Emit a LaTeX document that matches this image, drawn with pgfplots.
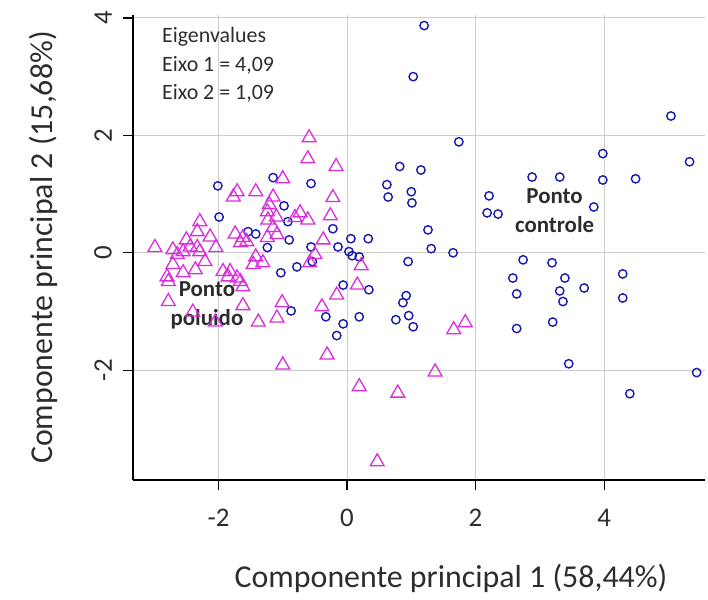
\documentclass[border=0pt]{standalone}
\usepackage{pgfplots}
\pgfplotsset{compat=1.18}
\usepackage{fontspec}
\setmainfont{Carlito}
\definecolor{ctrl}{RGB}{25,25,175}
\definecolor{polu}{RGB}{220,45,220}
\definecolor{gridc}{RGB}{205,205,205}
\definecolor{txt}{RGB}{45,45,45}
\begin{document}
\begin{tikzpicture}
\begin{axis}[
  name=ax,
  scale only axis,
  width=572bp, height=465bp,
  xmin=-3.33, xmax=5.57, ymin=-3.87, ymax=4.05,
  axis lines*=left,
  axis line style={line width=1.2bp, black},
  xtick={-2,0,2,4}, ytick={-2,0,2,4},
  tick align=outside,
  major tick length=10bp,
  tick style={line width=1.2bp, black},
  grid=major,
  grid style={gridc, line width=0.9bp},
  /pgf/number format/assume math mode=true,
  tick label style={font=\fontsize{27}{32}\selectfont, text=txt},
  xticklabel style={anchor=north, inner sep=19bp},
  yticklabel style={rotate=90, anchor=south, inner sep=11bp},
  xlabel={Componente principal 1 (58,44\%)},
  ylabel={Componente principal 2 (15,68\%)},
  label style={font=\fontsize{32}{38}\selectfont, text=txt},
  xlabel style={at={(axis description cs:0.556,-0.2301)}, anchor=base},
  ylabel style={at={(axis description cs:-0.1416,0.5)}, anchor=base},
]
\addplot[only marks, mark=o, mark size=4.2bp, mark options={line width=1.4bp, draw=ctrl}, color=ctrl] table {
x y
1.20 3.87
1.03 3.00
1.74 1.89
5.04 2.33
3.98 1.69
5.33 1.55
2.88 1.29
3.31 1.29
3.98 1.24
4.49 1.26
3.84 0.78
2.74 -0.12
3.19 -0.17
2.58 -0.43
3.39 -0.43
4.29 -0.36
2.64 -0.70
3.31 -0.65
3.36 -0.83
3.69 -0.60
4.29 -0.77
3.20 -1.18
2.64 -1.29
3.45 -1.89
4.40 -2.40
5.44 -2.04
0.82 1.47
1.15 1.41
0.62 1.16
0.64 0.95
1.00 1.04
1.01 0.85
2.21 0.97
2.18 0.68
2.35 0.66
-0.22 0.41
0.06 0.24
0.33 0.24
1.26 0.39
-0.14 0.10
0.03 0.02
0.08 -0.05
0.19 -0.07
1.31 0.07
1.65 0.00
0.95 -0.15
-0.06 -0.55
0.34 -0.63
0.92 -0.73
0.87 -0.85
-0.33 -1.09
0.19 -1.09
0.76 -1.14
0.96 -1.07
1.03 -1.26
-0.06 -1.21
-0.16 -1.41
-2.01 1.14
-1.15 1.28
-0.56 1.18
-1.99 0.61
-0.98 0.80
-0.92 0.53
-1.54 0.36
-1.42 0.32
-0.90 0.22
-1.24 0.09
-0.56 0.10
-0.78 -0.24
-1.03 -0.34
-0.54 -0.15
-0.87 -0.99
};
\addplot[only marks, mark=triangle, mark size=8bp, mark options={line width=1.3bp, draw=polu}, color=polu] table {
x y
-0.59 1.96
-0.61 1.60
-0.17 1.47
-1.00 1.26
-1.77 0.95
-1.71 1.04
-1.42 1.04
-1.15 0.95
-1.21 0.82
-1.24 0.70
-1.10 0.61
-1.23 0.56
-0.73 0.68
-0.61 0.56
-0.81 0.60
-1.15 0.43
-1.09 0.31
-2.29 0.53
-2.33 0.36
-2.13 0.27
-1.74 0.32
-1.62 0.26
-1.66 0.17
-1.56 0.19
-2.50 0.22
-2.44 0.10
-2.33 0.09
-2.99 0.09
-2.71 0.05
-2.64 -0.03
-2.55 0.02
-2.29 0.02
-2.04 0.09
-1.24 0.26
-0.37 0.22
-0.50 -0.03
-1.42 -0.07
-1.31 -0.17
-1.46 -0.20
-0.58 -0.17
-2.71 -0.20
-2.55 -0.34
-2.36 -0.29
-2.21 -0.15
-2.80 -0.41
-2.78 -0.49
-1.93 -0.32
-1.82 -0.32
-1.85 -0.41
-1.71 -0.43
-1.66 -0.49
-1.62 -0.58
-2.78 -0.83
-2.40 -1.01
-1.62 -0.90
-1.01 -0.85
-1.09 -1.11
-0.39 -0.92
-1.38 -1.18
-2.05 -1.18
-0.26 0.63
-0.22 0.94
0.22 -0.22
0.16 -0.55
-0.16 -0.72
1.84 -1.19
1.66 -1.31
-0.31 -1.74
1.37 -2.03
0.19 -2.28
0.79 -2.39
0.47 -3.56
-1.00 -1.91
};
\node[anchor=north west, inner sep=0pt, align=left, text=txt, font=\fontsize{22}{28.7}\selectfont] at (axis cs:-2.88,3.84) {Eigenvalues\\Eixo 1 = 4,09\\Eixo 2 = 1,09};
\node[align=center, inner sep=0pt, text=txt, font=\bfseries\fontsize{23}{29}\selectfont] at (axis cs:3.23,0.72) {Ponto\\controle};
\node[align=center, inner sep=0pt, text=txt, font=\bfseries\fontsize{23}{29}\selectfont] at (axis cs:-2.18,-0.90) {Ponto\\poluido};
\end{axis}
\pgfresetboundingbox
\path[use as bounding box] ([xshift=-133bp,yshift=-119bp]ax.south west) rectangle ([xshift=3bp,yshift=15bp]ax.north east);
\end{tikzpicture}
\end{document}
